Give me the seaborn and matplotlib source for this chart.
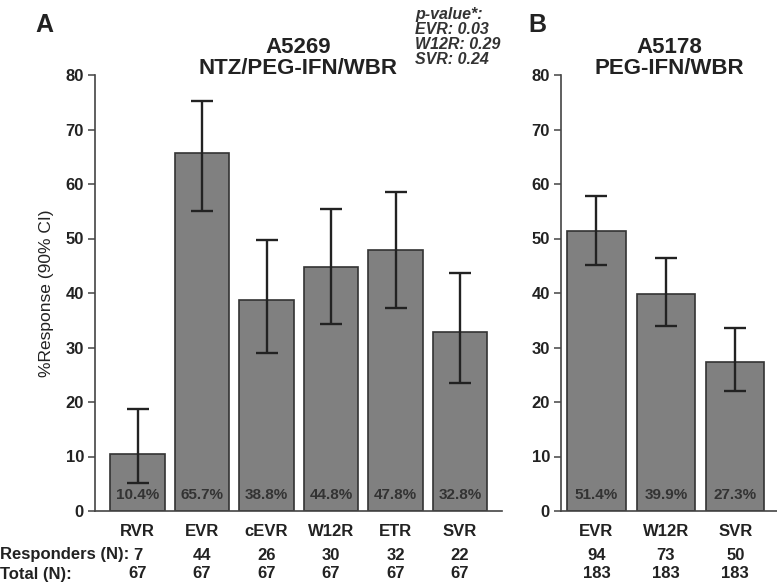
import numpy as np
import pandas as pd
import seaborn as sns
import matplotlib.pyplot as plt
import matplotlib.transforms as mtransforms

# PAINEL A - A5269 NTZ/PEG-IFN/WBR
cats_a = ["RVR", "EVR", "cEVR", "W12R", "ETR", "SVR"]
pct_a = [10.4, 65.7, 38.8, 44.8, 47.8, 32.8]
ci_low_a = [5.2, 55.1, 28.9, 34.4, 37.2, 23.5]
ci_high_a = [18.8, 75.2, 49.7, 55.5, 58.5, 43.6]
resp_a = [7, 44, 26, 30, 32, 22]
total_a = [67, 67, 67, 67, 67, 67]

# PAINEL B - A5178 PEG-IFN/WBR
cats_b = ["EVR", "W12R", "SVR"]
pct_b = [51.4, 39.9, 27.3]
ci_low_b = [45.2, 33.9, 22.1]
ci_high_b = [57.8, 46.4, 33.5]
resp_b = [94, 73, 50]
total_b = [183, 183, 183]

pvals = ["p-value*:", "EVR: 0.03", "W12R: 0.29", "SVR: 0.24"]

sns.set_theme(style="white")
plt.rcParams['font.family'] = ['Liberation Sans', 'DejaVu Sans']

BAR = "#808080"
EDGE = "#333333"
TXT = "#222222"

fig = plt.figure(figsize=(7.77, 5.85), dpi=100)
W, H = 777, 585
ax_a = fig.add_axes([95 / W, 1 - 511 / H, 407 / W, 436 / H])
ax_b = fig.add_axes([561 / W, 1 - 511 / H, 216 / W, 436 / H])


def painel(ax, cats, pct, lo, hi, resp, total, titulo, xlim):
    df = pd.DataFrame({"cat": cats, "pct": pct})
    sns.barplot(data=df, x="cat", y="pct", color=BAR, saturation=1, width=0.84,
                edgecolor=EDGE, linewidth=1.2, errorbar=None, ax=ax)
    x = np.arange(len(cats))
    pct = np.array(pct)
    yerr = [pct - np.array(lo), np.array(hi) - pct]
    ax.errorbar(x, pct, yerr=yerr, fmt="none", ecolor=TXT, elinewidth=1.7,
                capsize=8, capthick=1.7)
    for xi, p in zip(x, pct):
        ax.text(xi, 2.9, f"{p:.1f}%", ha="center", va="center", fontsize=11,
                fontweight="bold", color="#333333")
    ax.set_ylim(0, 80)
    ax.set_xlim(*xlim)
    ax.set_yticks(range(0, 81, 10))
    ax.set_xlabel("")
    ax.set_ylabel("")
    for s in ["top", "right"]:
        ax.spines[s].set_visible(False)
    for s in ["left", "bottom"]:
        ax.spines[s].set_color("#444444")
        ax.spines[s].set_linewidth(1.2)
    ax.tick_params(axis="y", left=True, length=5, width=1.1, color="#444444",
                   pad=3, labelsize=12, labelcolor=TXT)
    ax.tick_params(axis="x", length=0, pad=9, labelsize=12, labelcolor=TXT)
    for lab in ax.get_xticklabels() + ax.get_yticklabels():
        lab.set_fontweight("bold")
    ax.set_title(titulo, fontsize=16, fontweight="bold", color=TXT, pad=1,
                 linespacing=1.0)
    # LINHAS DE N ABAIXO DO EIXO
    tr = mtransforms.blended_transform_factory(ax.transData, fig.transFigure)
    for xi, r, t in zip(x, resp, total):
        ax.text(xi, 1 - 555 / H, str(r), transform=tr, ha="center", va="center",
                fontsize=12, fontweight="bold", color=TXT)
        ax.text(xi, 1 - 574 / H, str(t), transform=tr, ha="center", va="center",
                fontsize=12, fontweight="bold", color=TXT)


painel(ax_a, cats_a, pct_a, ci_low_a, ci_high_a, resp_a, total_a,
       "A5269\nNTZ/PEG-IFN/WBR", (-0.66, 5.65))
painel(ax_b, cats_b, pct_b, ci_low_b, ci_high_b, resp_b, total_b,
       "A5178\nPEG-IFN/WBR", (-0.51, 2.6))

ax_a.set_ylabel("%Response (90% CI)", fontsize=12.5, color=TXT, va="center")
ax_a.yaxis.set_label_coords(-0.118, 0.5)

fig.text(0.0, 1 - 555 / H, "Responders (N):", ha="left", va="center",
         fontsize=12, fontweight="bold", color=TXT)
fig.text(0.0, 1 - 574 / H, "Total (N):", ha="left", va="center",
         fontsize=12, fontweight="bold", color=TXT)

fig.text(35 / W, 1 - 32 / H, "A", fontsize=18, fontweight="bold", color=TXT,
         va="baseline")
fig.text(528 / W, 1 - 32 / H, "B", fontsize=18, fontweight="bold", color=TXT,
         va="baseline")

fig.text(415 / W, 1 - 7 / H, "\n".join(pvals), ha="left", va="top",
         fontsize=11.5, fontweight="bold", fontstyle="italic", color="#333333",
         linespacing=1.0)

fig.savefig("out.png", dpi=100)
